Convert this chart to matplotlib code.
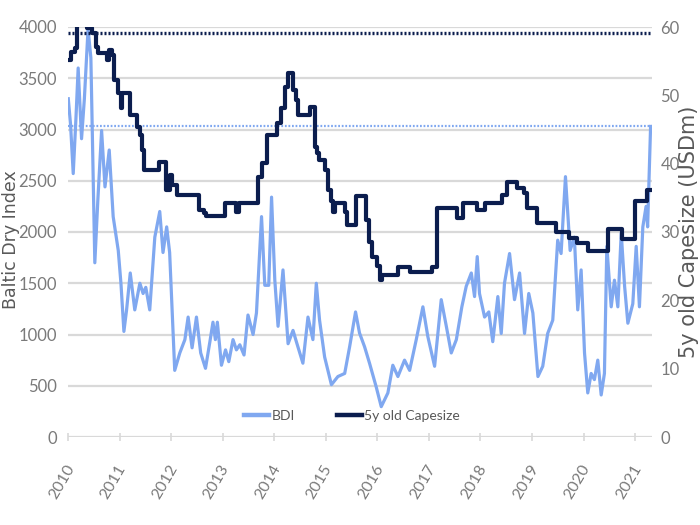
import matplotlib
matplotlib.use('Agg')
import matplotlib.pyplot as plt
import matplotlib.transforms as mtrans
from matplotlib.lines import Line2D
import pandas as pd

# ---------------- data ----------------
bdi_dates = [
    "2010-01-03", "2010-01-19", "2010-02-07", "2010-02-26", "2010-03-14", "2010-04-07",
    "2010-04-27", "2010-05-23", "2010-06-12", "2010-07-10", "2010-07-31", "2010-08-27",
    "2010-09-20", "2010-10-20", "2010-11-17", "2010-12-23", "2011-01-11", "2011-02-01",
    "2011-02-20", "2011-03-18", "2011-04-19", "2011-05-25", "2011-06-17", "2011-07-06",
    "2011-08-03", "2011-09-08", "2011-10-13", "2011-11-05", "2011-12-01", "2011-12-22",
    "2012-01-27", "2012-03-03", "2012-04-08", "2012-05-01", "2012-05-29", "2012-06-29",
    "2012-07-29", "2012-09-01", "2012-10-01", "2012-10-24", "2012-11-10", "2012-11-24",
    "2012-12-23", "2013-01-21", "2013-02-13", "2013-03-15", "2013-04-08", "2013-05-02",
    "2013-06-01", "2013-06-29", "2013-08-04", "2013-08-28", "2013-10-03", "2013-10-26",
    "2013-11-23", "2013-12-13", "2014-01-05", "2014-01-28", "2014-03-04", "2014-04-09",
    "2014-05-14", "2014-06-11", "2014-07-23", "2014-08-28", "2014-10-02", "2014-10-26",
    "2014-11-18", "2014-12-24", "2015-02-10", "2015-03-28", "2015-05-15", "2015-06-19",
    "2015-07-31", "2015-08-28", "2015-10-03", "2015-11-07", "2015-12-24", "2016-01-29",
    "2016-03-16", "2016-04-20", "2016-05-26", "2016-07-12", "2016-08-17", "2016-10-03",
    "2016-11-19", "2016-12-24", "2017-02-10", "2017-03-29", "2017-05-04", "2017-06-08",
    "2017-07-14", "2017-08-22", "2017-09-22", "2017-10-28", "2017-11-20", "2017-12-09",
    "2017-12-25", "2018-01-30", "2018-03-01", "2018-03-29", "2018-05-04", "2018-05-28",
    "2018-06-20", "2018-07-26", "2018-08-30", "2018-10-05", "2018-11-09", "2018-12-09",
    "2019-01-07", "2019-02-12", "2019-03-18", "2019-04-22", "2019-05-28", "2019-07-02",
    "2019-07-26", "2019-08-26", "2019-09-28", "2019-10-28", "2019-11-21", "2019-12-15",
    "2020-01-08", "2020-01-31", "2020-02-24", "2020-03-18", "2020-04-11", "2020-05-05",
    "2020-05-28", "2020-06-14", "2020-07-15", "2020-08-07", "2020-08-31", "2020-09-24",
    "2020-10-18", "2020-11-10", "2020-12-15", "2021-01-08", "2021-01-31", "2021-02-24",
    "2021-03-19", "2021-03-30", "2021-04-20",
]
bdi_values = [
    3300, 3050, 2570, 3100, 3600, 2910,
    3300, 3980, 3700, 1700, 2300, 2990,
    2440, 2800, 2150, 1820, 1500, 1030,
    1240, 1600, 1240, 1500, 1400, 1460,
    1240, 1950, 2200, 1800, 2050, 1800,
    650, 820, 950, 1170, 870, 1170,
    820, 670, 920, 1120, 950, 1120,
    700, 850, 735, 950, 850, 900,
    800, 1190, 1000, 1210, 2150, 1480,
    1480, 2340, 1530, 1080, 1630, 910,
    1040, 910, 720, 1170, 950, 1500,
    1140, 780, 510, 590, 620, 880,
    1220, 1015, 880, 720, 490, 296,
    430, 700, 590, 750, 650, 950,
    1270, 980, 690, 1340, 1080, 820,
    950, 1270, 1470, 1600, 1370, 1760,
    1400, 1170, 1220, 930, 1370, 1010,
    1500, 1790, 1340, 1600, 1010, 1400,
    1210, 590, 690, 1010, 1140, 1920,
    1790, 2540, 1820, 1950, 1240, 1630,
    820, 430, 620, 560, 750, 410,
    620, 1860, 1270, 1530, 1270, 1990,
    1470, 1110, 1300, 1860, 1270, 2050,
    2250, 2050, 3030,
]

cape_dates = [
    "2010-01-01", "2010-01-25", "2010-02-20", "2010-03-05", "2010-05-15", "2010-06-20",
    "2010-07-15", "2010-08-01", "2010-10-01", "2010-10-20", "2010-11-12", "2010-11-25",
    "2010-12-20", "2011-01-08", "2011-01-18", "2011-03-15", "2011-05-05", "2011-05-25",
    "2011-06-10", "2011-06-20", "2011-10-10", "2011-11-25", "2011-12-25", "2012-01-10",
    "2012-02-15", "2012-07-20", "2012-08-20", "2012-09-05", "2013-01-15", "2013-04-05",
    "2013-04-25", "2013-09-06", "2013-10-05", "2013-11-10", "2014-01-19", "2014-02-21",
    "2014-03-18", "2014-04-06", "2014-05-12", "2014-06-02", "2014-06-17", "2014-09-09",
    "2014-10-19", "2014-11-03", "2014-11-17", "2014-12-24", "2015-01-15", "2015-02-06",
    "2015-02-20", "2015-03-04", "2015-05-15", "2015-05-30", "2015-07-31", "2015-10-11",
    "2015-10-31", "2015-11-28", "2015-12-28", "2016-01-19", "2016-02-02", "2016-05-26",
    "2016-08-19", "2017-01-19", "2017-03-01", "2017-07-16", "2017-08-29", "2017-12-05",
    "2018-01-30", "2018-05-30", "2018-07-05", "2018-09-20", "2018-11-02", "2018-11-28",
    "2019-02-02", "2019-06-18", "2019-09-17", "2019-11-18", "2020-02-01", "2020-06-20",
    "2020-09-26", "2020-12-28", "2021-03-29", "2021-04-28",
]
cape_values = [
    55.2, 56.4, 56.9, 61.0, 59.8, 59.1,
    57.1, 56.2, 55.2, 56.6, 55.9, 52.2,
    50.3, 48.1, 50.3, 47.1, 45.4, 44.2,
    42.0, 39.1, 40.3, 36.1, 38.3, 36.9,
    35.4, 33.2, 32.8, 32.3, 34.2, 32.9,
    34.2, 38.0, 40.1, 44.2, 46.0, 48.1,
    51.2, 53.2, 50.8, 49.3, 47.1, 48.3,
    42.4, 41.5, 40.5, 39.1, 36.1, 34.5,
    32.9, 34.2, 32.9, 31.0, 35.3, 31.8,
    28.5, 26.3, 25.0, 23.0, 23.7, 24.9,
    24.1, 24.9, 33.5, 32.0, 34.2, 33.2,
    34.2, 35.4, 37.3, 36.4, 35.7, 33.5,
    31.3, 30.0, 29.1, 28.4, 27.2, 30.5,
    29.0, 34.5, 36.2, 36.2,
]

years = list(range(2010, 2022))
bdi_ref_level = 3030      # latest BDI level (dotted)
cape_ref_level = 59.1     # 2010 capesize level (dotted)

# ---------------- style ----------------
plt.rcParams['font.family'] = ['Lato', 'DejaVu Sans']
WIDE = ['DejaVu Sans']
BDI_COLOR = '#80A8F0'
CAPE_COLOR = '#0B1D4E'
GRID = '#D9D9D9'
TICK_TXT = '#7A7A7A'
LABEL_TXT = '#595959'

fig = plt.figure(figsize=(7, 5.25), dpi=100)
ax = fig.add_axes([68 / 700, 1 - 437 / 525, (652 - 68) / 700, 410 / 525])
ax2 = ax.twinx()

bd = pd.to_datetime(bdi_dates)
cd = pd.to_datetime(cape_dates)
x0 = pd.Timestamp("2010-01-01")
x1 = pd.Timestamp("2021-04-30")

# grid lines
for v in range(0, 4001, 500):
    ax.axhline(v, color=GRID, lw=1.6, zorder=0)

ax.plot(bd, bdi_values, color=BDI_COLOR, lw=2.3, zorder=2, solid_joinstyle='round')
ax.plot([x0, x1], [bdi_ref_level] * 2, color=BDI_COLOR, lw=1.6,
        linestyle=(0, (0.8, 0.8)), zorder=2)

ax2.plot(cd, cape_values, color=CAPE_COLOR, lw=3.0, drawstyle='steps-post', zorder=3)
ax2.plot([x0, x1], [cape_ref_level] * 2, color=CAPE_COLOR, lw=2.4,
         linestyle=(0, (0.6, 0.6)), zorder=3)

ax.set_xlim(x0, x1)
ax.set_ylim(0, 4000)
ax2.set_ylim(0, 60)

for a in (ax, ax2):
    for s in a.spines.values():
        s.set_visible(False)

ax.set_yticks(range(0, 4001, 500))
ax2.set_yticks(range(0, 61, 10))
ax.tick_params(axis='y', length=0, pad=8, labelsize=12, labelcolor=TICK_TXT)
ax2.tick_params(axis='y', length=0, pad=6, labelsize=12, labelcolor=TICK_TXT)

ax.set_xticks([pd.Timestamp(f"{y}-01-01") for y in years])
ax.set_xticklabels([str(y) for y in years])
ax.tick_params(axis='x', direction='inout', length=6, width=1.2, color=GRID,
               labelsize=11.5, labelcolor=TICK_TXT, pad=0)
off = mtrans.ScaledTranslation(9 / 100, -21 / 100, fig.dpi_scale_trans)
for lbl in ax.get_xticklabels():
    lbl.set_rotation(60)
    lbl.set_ha('right')
    lbl.set_va('top')
    lbl.set_transform(lbl.get_transform() + off)

fig.text(11 / 700, 1 - 240 / 525, "Baltic Dry Index", rotation=90, ha='center',
         va='center', fontsize=12.5, color=LABEL_TXT, family=WIDE)
fig.text(689 / 700, 1 - 232 / 525, "5y old Capesize (USDm)", rotation=90, ha='center',
         va='center', fontsize=15, color=LABEL_TXT, family=WIDE)

handles = [Line2D([], [], color=BDI_COLOR, lw=3.2),
           Line2D([], [], color=CAPE_COLOR, lw=3.2)]
ax.legend(handles, ["BDI", "5y old Capesize"], loc='center',
          bbox_to_anchor=((352 - 68) / 584, (437 - 416) / 410), ncol=2,
          frameon=False, fontsize=10, handlelength=1.8, handletextpad=0.2,
          columnspacing=3.0, labelcolor=LABEL_TXT)

fig.savefig("out.png", dpi=100)
